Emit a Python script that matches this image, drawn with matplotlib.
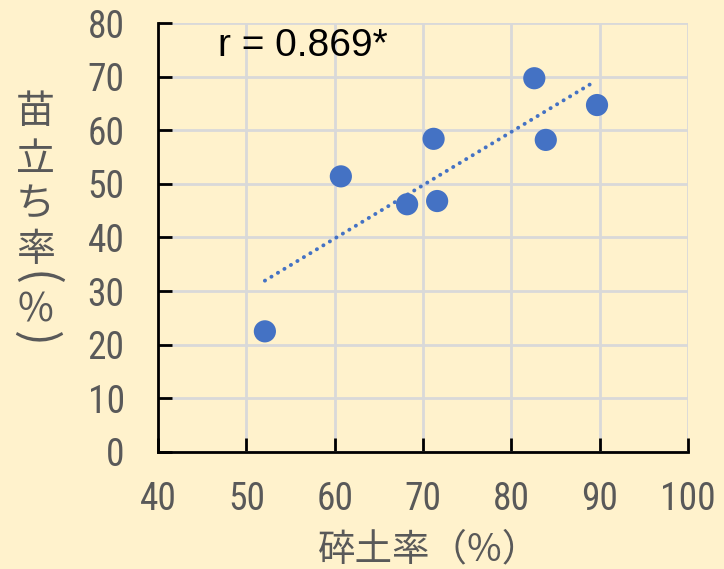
import numpy as np
import matplotlib
matplotlib.use("Agg")
import matplotlib.pyplot as plt
from matplotlib import font_manager

# Data
x_vals = [52.1, 60.7, 68.2, 71.2, 71.6, 82.6, 83.9, 89.7]
y_vals = [22.5, 51.4, 46.2, 58.4, 46.8, 69.7, 58.2, 64.7]
x_ticks = [40, 50, 60, 70, 80, 90, 100]
y_ticks = [0, 10, 20, 30, 40, 50, 60, 70, 80]
x_label = "碎土率（%）"
y_label_chars = ["苗", "立", "ち", "率", "(", "%", ")"]
r_text = "r = 0.869*"

names = {f.name for f in font_manager.fontManager.ttflist}
tick_font = "Roboto Condensed" if "Roboto Condensed" in names else "Liberation Sans"

bg = "#FFF2CC"
blue = "#4472C4"
gray = "#595959"
W, H = 724, 569

fig = plt.figure(figsize=(7.24, 5.69), dpi=100, facecolor=bg)
ax = fig.add_axes([158 / W, 1 - 452 / H, 530 / W, 429 / H], facecolor=bg)

ax.set_xlim(40, 100)
ax.set_ylim(0, 80)
ax.set_xticks(x_ticks)
ax.set_yticks(y_ticks)
ax.grid(True, color="#D9D9D9", linewidth=2, zorder=0)
ax.set_axisbelow(True)

for s in ["top", "right"]:
    ax.spines[s].set_visible(False)
for s in ["left", "bottom"]:
    ax.spines[s].set_linewidth(2)
    ax.spines[s].set_color("black")

ax.tick_params(axis="both", direction="in", length=10, width=2, color="black",
               labelsize=27, labelcolor=gray)
ax.tick_params(axis="x", pad=21)
ax.tick_params(axis="y", pad=24)
for lab in ax.get_xticklabels() + ax.get_yticklabels():
    lab.set_fontfamily(tick_font)

# Trend line (least squares over the data range)
xa = np.array(x_vals)
ya = np.array(y_vals)
k, b = np.polyfit(xa, ya, 1)
xs = np.array([xa.min(), xa.max() - 0.6])
ax.plot(xs, k * xs + b, color=blue, linewidth=2.8, linestyle=(0, (0.05, 1.9)),
        dash_capstyle="round", zorder=2)

ax.scatter(x_vals, y_vals, s=255, color=blue, edgecolors="none", zorder=3)

ax.text(0.113, 0.946, r_text, transform=ax.transAxes, fontsize=28,
        family="Liberation Sans", color="black", ha="left", va="center")

cjk = ["Noto Sans CJK JP", "DejaVu Sans"]
fig.text(429 / W, 1 - 550 / H, x_label, ha="center", va="center", fontsize=27,
         family=cjk, color=gray)

# vertical (stacked) y-axis label
y_centers = [112, 160, 204, 250, 279, 310, 339]
rotations = [0, 0, 0, 0, -90, 0, -90]
sizes = [28, 28, 28, 28, 34, 28, 34]
for ch, yc, rot, fs in zip(y_label_chars, y_centers, rotations, sizes):
    fig.text(35 / W, 1 - yc / H, ch, ha="center", va="center", fontsize=fs,
             family=cjk, color=gray, rotation=rot)

fig.savefig("out.png", dpi=100, facecolor=bg)
